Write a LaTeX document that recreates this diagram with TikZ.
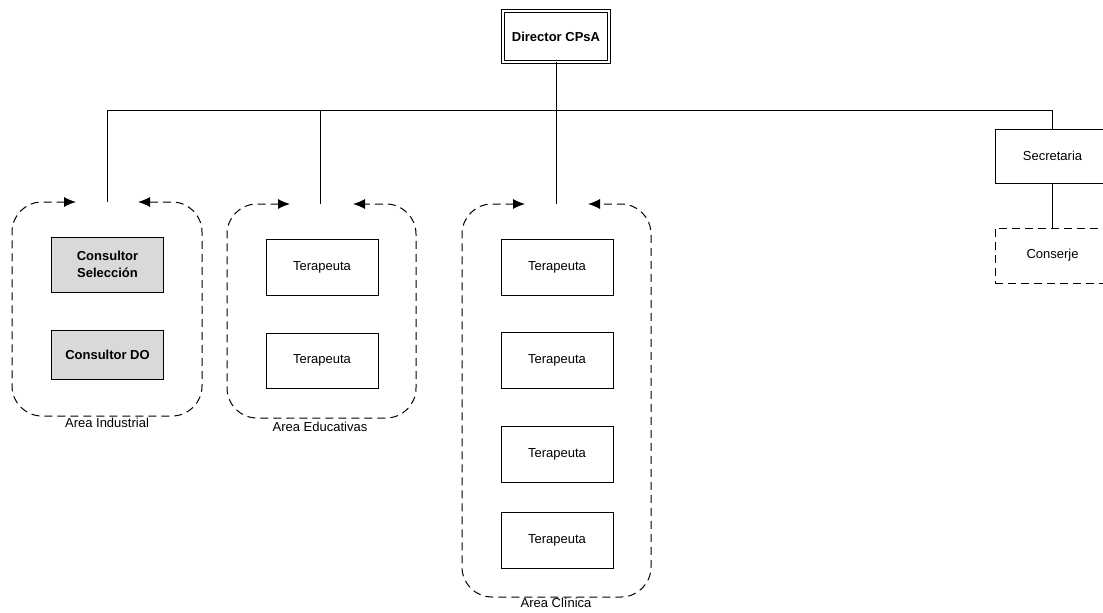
\documentclass[tikz,border=0pt]{standalone}
\usepackage{fontspec}
\setmainfont{Liberation Sans}
\usetikzlibrary{arrows.meta}
\definecolor{boxgray}{RGB}{217,217,217}
\tikzset{
  txt/.style={font=\fontsize{13}{16}\selectfont, align=center},
  box/.style={draw, line width=1pt, minimum width=112pt, minimum height=56pt, inner sep=0pt, txt},
  gbox/.style={box, fill=boxgray, font=\fontsize{13}{16}\selectfont\bfseries},
  dbox/.style={box, dash pattern=on 8pt off 5pt},
  area/.style={line width=1pt, dash pattern=on 8pt off 5pt, rounded corners=30pt,
    {Latex[length=12pt,width=10pt]}-{Latex[length=12pt,width=10pt]}},
  conn/.style={line width=1pt},
  lbl/.style={txt, inner sep=0pt}
}
\begin{document}
\begin{tikzpicture}[x=1pt,y=-1pt]
\clip (0,0) rectangle (1103,613);
\fill[white] (0,0) rectangle (1103,613);

% Director
\node[draw, double, double distance=2pt, line width=0.8pt, minimum width=106pt, minimum height=51pt,
  inner sep=0pt, font=\fontsize{13}{16}\selectfont\bfseries] (dir) at (556,36.5) {Director CPsA};
\coordinate (bus) at (556,110);

% Secretaria / Conserje
\node[box, minimum width=115pt, minimum height=54pt] (sec) at (1052.5,156) {Secretaria};
\node[dbox, minimum width=115pt, minimum height=55pt] (con) at (1052.5,255.5) {Conserje};

% Area tops
\coordinate (indtop) at (107,202);
\coordinate (edutop) at (320,204);
\coordinate (clitop) at (556,204);

% Industrial
\coordinate (indla) at (76,202);
\coordinate (indra) at (138,202);
\draw[area] (indla) -| (12,416) -| (202,202) -- (indra);
\node[gbox, minimum height=55pt] (cs) at (107.5,264.5) {Consultor\\[1pt]Selección};
\node[gbox, minimum height=49pt] (cdo) at (107.5,354.5) {Consultor DO};
\node[lbl] (lind) at (107,423) {Area Industrial};

% Educativas
\coordinate (edula) at (290,204);
\coordinate (edura) at (353,204);
\draw[area] (edula) -| (227,418) -| (416,204) -- (edura);
\node[box] (e1) at (322,267) {Terapeuta};
\node[box, minimum height=55pt] (e2) at (322,360.5) {Terapeuta};
\node[lbl] (ledu) at (320,427) {Area Educativas};

% Clinica
\coordinate (clila) at (525,204);
\coordinate (clira) at (588,204);
\draw[area] (clila) -| (462,597) -| (651,204) -- (clira);
\node[box] (c1) at (557,267) {Terapeuta};
\node[box] (c2) at (557,360) {Terapeuta};
\node[box] (c3) at (557,454) {Terapeuta};
\node[box] (c4) at (557,540) {Terapeuta};
\node[lbl] (lcli) at (556,603) {Area Clínica};

% Connectors
\draw[conn] (dir.south) -- (bus);
\draw[conn] (indtop) -- (indtop |- bus) -| (sec.north);
\draw[conn] (edutop) -- (edutop |- bus);
\draw[conn] (clitop) -- (bus);
\draw[conn] (sec.south) -- (con.north);
\end{tikzpicture}
\end{document}
